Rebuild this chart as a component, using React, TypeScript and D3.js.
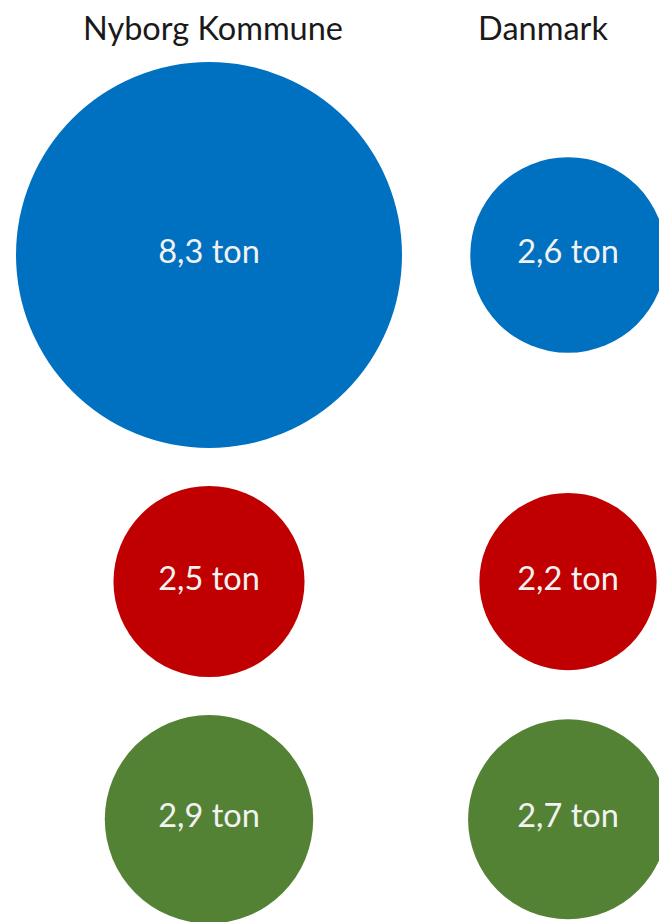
import React from "react";
import * as d3 from "d3";

const regions = ["Nyborg Kommune", "Danmark"];
const categories = ["blue", "red", "green"];
const nyborgValues = [8.3, 2.5, 2.9];
const danmarkValues = [2.6, 2.2, 2.7];
const unit = "ton";
const colors = ["#0070C0", "#C00000", "#548235"];

const W = 659;
const H = 922;
const FONT = "Lato, 'Open Sans', sans-serif";

export default function App() {
  const series = [nyborgValues, danmarkValues];
  const maxV = d3.max(series.flat()) as number;
  const r = d3.scalePow().exponent(0.586).domain([0, maxV]).range([0, 193]);
  const x = d3.scalePoint<string>().domain(regions).range([209, 568]);
  const titleX = d3.scalePoint<string>().domain(regions).range([213, 543]);

  // stack rows by their largest bubble
  const gap = 38;
  const top = 62;
  const rowMax = categories.map((_, i) => d3.max(series, (s) => r(s[i])) as number);
  const rowY: number[] = [];
  let cur = top;
  rowMax.forEach((m, i) => {
    cur += m;
    rowY.push(cur);
    cur += m + gap;
  });

  const fmt = (v: number) => d3.format(".1f")(v).replace(".", ",") + " " + unit;

  return (
    <div style={{ position: "absolute", left: 0, top: 0 }}>
      <svg width={W} height={H} style={{ display: "block" }}>
        <rect width={W} height={H} fill="#ffffff" />
        {regions.map((reg) => (
          <text
            key={reg}
            x={titleX(reg)}
            y={40}
            textAnchor="middle"
            fontFamily={FONT}
            fontSize={32.5}
            fill="#1a1a1a"
          >
            {reg}
          </text>
        ))}
        {regions.map((reg, ci) =>
          categories.map((cat, ri) => {
            const v = series[ci][ri];
            const cx = x(reg) as number;
            const cy = rowY[ri];
            return (
              <g key={reg + cat}>
                <circle cx={cx} cy={cy} r={r(v)} fill={colors[ri]} />
                <text
                  x={cx}
                  y={cy + 8}
                  textAnchor="middle"
                  fontFamily={FONT}
                  fontSize={32.5}
                  fill="#f2f2f2"
                >
                  {fmt(v)}
                </text>
              </g>
            );
          })
        )}
      </svg>
    </div>
  );
}
